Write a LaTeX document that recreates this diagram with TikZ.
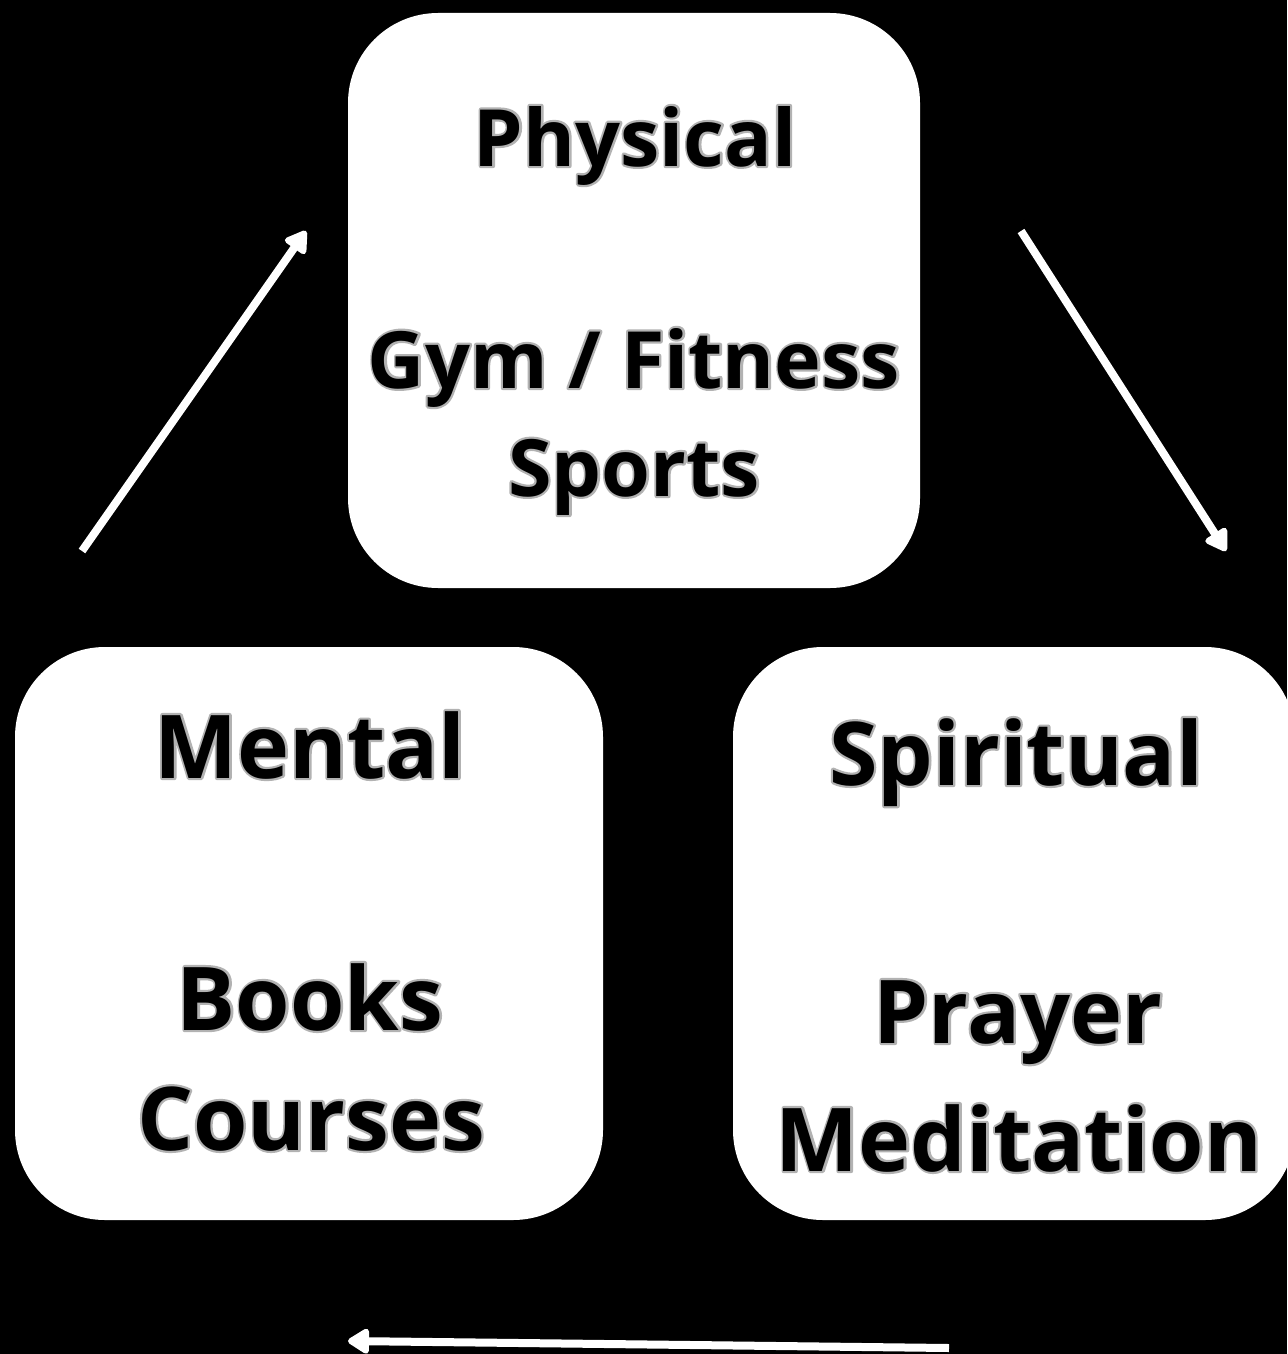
\documentclass[tikz,border=0pt]{standalone}
\usepackage{fontspec}
\setmainfont{Open Sans}
\usetikzlibrary{arrows.meta}
% grey rim round the letters: stroke the glyphs thick in grey, then fill them black on top
\newcommand{\boxtext}[1]{\rlap{\special{pdf:literal direct 1 Tr 0.7 G 2.2 w 1 j}#1\special{pdf:literal direct 0 Tr 0 G}}#1}

\begin{document}
\begin{tikzpicture}[x=0.5pt,y=-0.5pt]

      \fill[black] (0,0) rectangle (1287,1354);
      \useasboundingbox (0,0) rectangle (1287,1354);

      \begin{scope}[every node/.style={fill=white, rounded corners=45pt, inner sep=0pt}]
        \node[minimum width=286pt, minimum height=287.5pt] (physical)  at (634,300.5) {};
        \node[minimum width=294pt, minimum height=286.5pt] (mental)    at (309,933.5) {};
        \node[minimum width=281pt, minimum height=286.5pt] (spiritual) at (1014,933.5) {};
      \end{scope}

      \begin{scope}[every node/.style={anchor=base, inner sep=0pt, font=\fontsize{39.5}{48}\selectfont\bfseries}]
        \node (p1) at (635,166)  {\boxtext{Physical}};
        \node (p2) at (634,388)  {\boxtext{Gym / Fitness}};
        \node (p3) at (634,496)  {\boxtext{Sports}};
      \end{scope}

      \begin{scope}[every node/.style={anchor=base, inner sep=0pt, font=\fontsize{44}{52}\selectfont\bfseries}]
        \node (m1) at (310,778)  {\boxtext{Mental}};
        \node (m2) at (310,1030) {\boxtext{Books}};
        \node (m3) at (311,1150) {\boxtext{Courses}};
        \node (s1) at (1016,785) {\boxtext{Spiritual}};
        \node (s2) at (1018,1043) {\boxtext{Prayer}};
        \node (s3) at (1019,1171) {\boxtext{Meditation}};
      \end{scope}

      \coordinate (a1) at (82,551);
      \coordinate (b1) at (306,231);
      \coordinate (a2) at (1021,231);
      \coordinate (b2) at (1226,551);
      \coordinate (a3) at (949,1348);
      \coordinate (b3) at (348,1341);

      \begin{scope}[every path/.style={draw=white, line width=4pt, -{Triangle[length=12pt,width=14pt,round]}}]
        \path (a1) -- (b1);
        \path (a2) -- (b2);
        \path (a3) -- (b3);
      \end{scope}

    \end{tikzpicture}
\end{document}
